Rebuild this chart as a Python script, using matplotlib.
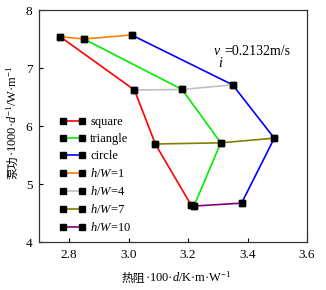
import numpy as np
import matplotlib
matplotlib.use("Agg")
import matplotlib.pyplot as plt

plt.rcParams['font.family'] = ['Liberation Serif', 'Noto Sans CJK SC', 'DejaVu Serif']
plt.rcParams['mathtext.fontset'] = 'custom'
plt.rcParams['mathtext.rm'] = 'Liberation Serif'
plt.rcParams['mathtext.it'] = 'Liberation Serif:italic'

# shapes: thermal resistance (x) and pumping power (y), in order h/W = 1, 4, 7, 10
square_x = [2.77, 3.02, 3.09, 3.21]
square_y = [7.54, 6.62, 5.69, 4.64]
triangle_x = [2.85, 3.18, 3.31, 3.22]
triangle_y = [7.50, 6.63, 5.71, 4.62]
circle_x = [3.01, 3.35, 3.49, 3.38]
circle_y = [7.57, 6.71, 5.79, 4.67]

shape_names = ['square', 'triangle', 'circle']
shape_colors = ['#ff0000', '#00ee00', '#0000ff']
hw_names = ['$h/W$=1', '$h/W$=4', '$h/W$=7', '$h/W$=10']
hw_colors = ['#ff8000', '#c0c0c0', '#808000', '#800080']

fig = plt.figure(figsize=(3.26, 2.90), dpi=100)
ax = fig.add_axes([0.1206, 0.1655, 0.8211, 0.80])

xs = [square_x, triangle_x, circle_x]
ys = [square_y, triangle_y, circle_y]
mk = dict(marker='s', markersize=3.8, markerfacecolor='black', markeredgecolor='black', lw=1.2)

for x, y, c, name in zip(xs, ys, shape_colors, shape_names):
    ax.plot(x, y, color=c, label=name, **mk)

for i, (c, name) in enumerate(zip(hw_colors, hw_names)):
    hx = [xs[k][i] for k in range(3)]
    hy = [ys[k][i] for k in range(3)]
    ax.plot(hx, hy, color=c, label=name, **mk)

ax.set_xlim(2.7, 3.595)
ax.set_ylim(4, 8)
ax.set_xticks([2.8, 3.0, 3.2, 3.4, 3.6])
ax.set_xticklabels(['2.8', '3.0', '3.2', '3.4', '3.6'])
ax.set_yticks([4, 5, 6, 7, 8])
ax.tick_params(direction='in', length=3, labelsize=9.5, top=False, right=False, pad=5)
for s in ax.spines.values():
    s.set_color('#333333')
    s.set_linewidth(0.9)

# axis labels: Chinese part + mathtext part placed one after the other
cjk = ['Noto Sans CJK SC']
xl1 = fig.text(0.374, 0.028, '热阻', family=cjk, fontsize=8.5, ha='left', va='baseline')
yl1 = fig.text(0.060, 0.382, '泵功', family=cjk, fontsize=8.5, rotation=90,
               ha='right', va='bottom')

fig.canvas.draw()
inv = fig.transFigure.inverted()
bx = inv.transform(xl1.get_window_extent().get_points())
by = inv.transform(yl1.get_window_extent().get_points())

fig.text(bx[1, 0], 0.028, '·100·$d$/K·m·W$^{-1}$', fontsize=9, ha='left', va='baseline')
fig.text(0.060, by[1, 1], '·1000·$d^{-1}$/W·m$^{-1}$', fontsize=9, rotation=90,
         ha='right', va='bottom')

ax.text(0.663, 0.819, '$v$', transform=ax.transAxes, fontsize=10, ha='center', va='center')
ax.text(0.692, 0.819, '=0.2132m/s', transform=ax.transAxes, fontsize=10, ha='left', va='center')
ax.text(0.678, 0.772, '$i$', transform=ax.transAxes, fontsize=10, ha='center', va='center')

ax.legend(loc='center left', bbox_to_anchor=(0.074, 0.287), frameon=False, fontsize=9,
          numpoints=2, handlelength=2.1, handletextpad=0.4, labelspacing=0.4,
          borderpad=0, borderaxespad=0)

fig.savefig('out.png', dpi=100)
